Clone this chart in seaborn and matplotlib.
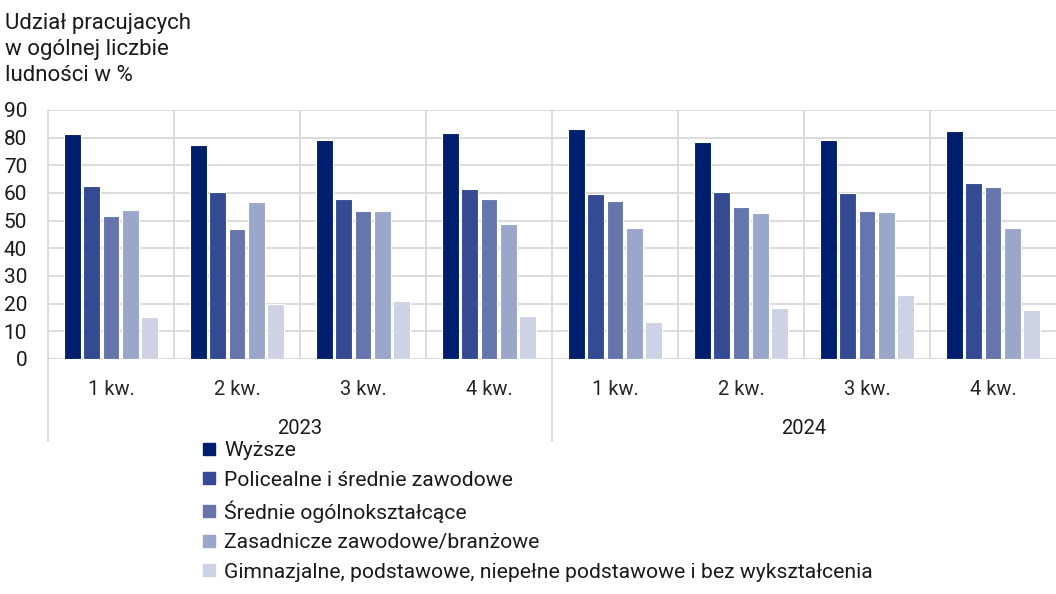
import matplotlib
matplotlib.use("Agg")
import matplotlib.pyplot as plt
import seaborn as sns
import pandas as pd
from matplotlib.lines import Line2D

years = ["2023", "2024"]
quarters = ["1 kw.", "2 kw.", "3 kw.", "4 kw."]
levels = [
    "Wyższe",
    "Policealne i średnie zawodowe",
    "Średnie ogólnokształcące",
    "Zasadnicze zawodowe/branżowe",
    "Gimnazjalne, podstawowe, niepełne podstawowe i bez wykształcenia",
]
wyzsze = [81.4, 77.3, 79.1, 81.8, 83.1, 78.5, 79.1, 82.4]
policealne = [62.4, 60.5, 58.0, 61.3, 59.5, 60.5, 59.9, 63.6]
srednie = [51.6, 47.0, 53.5, 58.0, 57.2, 54.8, 53.5, 62.3]
zasadnicze = [54.0, 56.7, 53.5, 48.7, 47.4, 52.6, 53.0, 47.4]
gimnazjalne = [15.3, 19.7, 20.8, 15.6, 13.5, 18.5, 23.1, 17.6]
colors = ["#001E6E", "#344A93", "#6675AB", "#9AA7CA", "#CDD3E5"]

periods = [f"{q} {y}" for y in years for q in quarters]
series = [wyzsze, policealne, srednie, zasadnicze, gimnazjalne]
rows = []
for lev, vals in zip(levels, series):
    for p, v in zip(periods, vals):
        rows.append({"okres": p, "poziom": lev, "wartosc": v})
df = pd.DataFrame(rows)

sns.set_style("white")
plt.rcParams["font.family"] = ["Roboto", "DejaVu Sans"]
plt.rcParams["text.color"] = "#1a1a1a"

fig = plt.figure(figsize=(10.56, 5.94), dpi=100)
ax = fig.add_axes([48 / 1056, 1 - 359 / 594, 1 - 48 / 1056, 249 / 594])

sns.barplot(data=df, x="okres", y="wartosc", hue="poziom", order=periods,
            hue_order=levels, palette=colors, saturation=1, width=0.76, gap=0.12,
            edgecolor="white", linewidth=0.8, ax=ax, legend=True)

ax.set_ylim(0, 90)
ax.set_xlim(-0.5, 7.5)
ax.set_yticks(range(0, 91, 10))
ax.tick_params(axis="y", labelsize=15, length=0, pad=15, colors="#1a1a1a")
ax.set_xticks(range(8))
ax.set_xticklabels(quarters * 2, fontsize=14.5)
ax.tick_params(axis="x", length=0, pad=15)
ax.set_xlabel("")
ax.set_ylabel("")
for s in ax.spines.values():
    s.set_visible(False)

grid_c = "#D9D9D9"
for yv in range(0, 91, 10):
    ax.axhline(yv, color=grid_c, lw=1.3, zorder=0)
for xv in [-0.5 + i for i in range(1, 8)]:
    ax.axvline(xv, color=grid_c, lw=1.3, zorder=0)
for xv in [-0.5, 3.5]:
    ax.add_line(Line2D([xv, xv], [0, -0.33], color=grid_c, lw=1.3,
                       transform=ax.get_xaxis_transform(), clip_on=False))
ax.add_line(Line2D([-0.5, -0.5], [0, 1], color=grid_c, lw=1.3,
                   transform=ax.get_xaxis_transform(), clip_on=False))

ax.text(1.5, -0.28, years[0], transform=ax.get_xaxis_transform(),
        ha="center", va="center", fontsize=14.5)
ax.text(5.5, -0.28, years[1], transform=ax.get_xaxis_transform(),
        ha="center", va="center", fontsize=14.5)

fig.text(5 / 1056, 1 - 13 / 594, "Udział pracujacych\nw ogólnej liczbie\nludności w %",
         ha="left", va="top", fontsize=16, linespacing=1.3)

ax.legend_.remove()
hs = [Line2D([], [], marker="s", ls="", color=c, markersize=9) for c in colors]
fig.legend(hs, levels, loc="upper left", bbox_to_anchor=(202 / 1056, 1 - 441 / 594),
           frameon=False, fontsize=15.2, handlelength=0.7, handletextpad=0.35,
           labelspacing=0.5, borderpad=0, borderaxespad=0)

fig.savefig("out.png", dpi=100)
